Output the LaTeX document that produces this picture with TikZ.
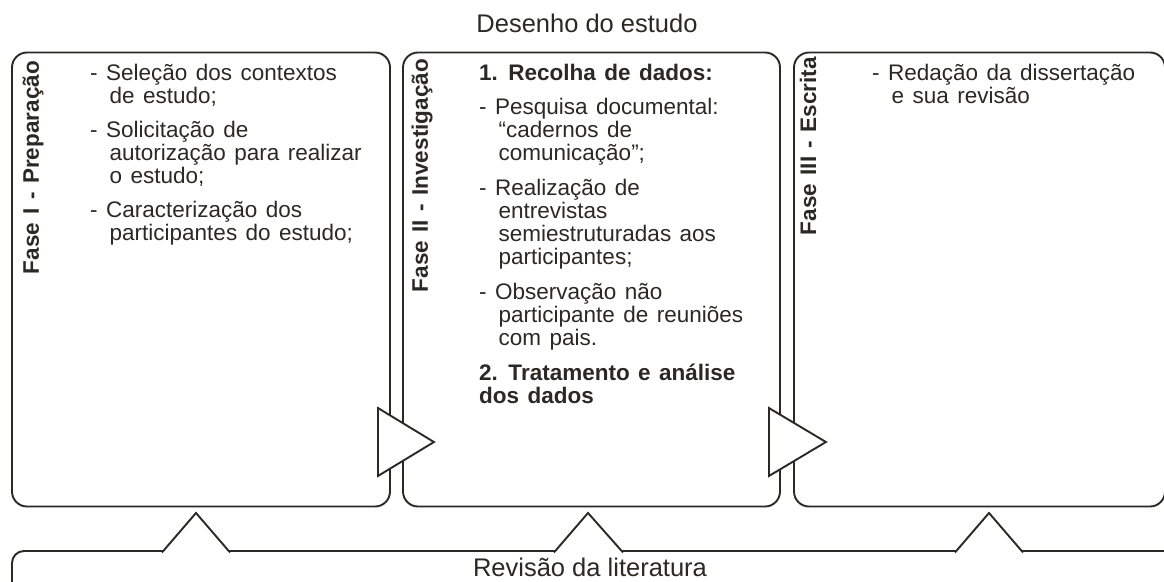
\documentclass[tikz,border=0pt]{standalone}
\usepackage{fontspec}
\setmainfont{Liberation Sans}
\newfontfamily\bodyfont[WordSpace=1.35]{Liberation Sans}
\usetikzlibrary{calc}
\definecolor{ink}{RGB}{43,41,36}
\newcommand{\ind}{\hspace*{19.5pt}}
\tikzset{
  phase/.style={draw=ink, line width=1.9pt, rounded corners=15pt, minimum height=454pt, inner sep=0pt},
  bar/.style={draw=ink, line width=1.9pt, rounded corners=12pt, inner sep=0pt},
  tri/.style={draw=ink, line width=1.9pt, fill=white, line join=miter},
  body/.style={anchor=north west, inner sep=0pt, align=left, text=ink, font=\bodyfont\fontsize{22.5}{23}\selectfont},
  lab/.style={rotate=90, anchor=east, inner sep=0pt, text=ink, font=\bodyfont\bfseries\fontsize{22.5}{23}\selectfont},
  big/.style={inner sep=0pt, text=ink, font=\fontsize{25.5}{28}\selectfont},
}
\begin{document}
\begin{tikzpicture}[x=1pt,y=-1pt]
\useasboundingbox (0,0) rectangle (1164,581);
% title
\node[big] (title) at (587,23) {Desenho do estudo};
% phase boxes
\node[phase, minimum width=378pt] (b1) at (201,279.5) {};
\node[phase, minimum width=377pt] (b2) at (591.5,279.5) {};
\node[phase, minimum width=371pt] (b3) at (979.5,279.5) {};
% literature bar
\node[bar, minimum width=1200pt, minimum height=90pt] (lit) at (612,596) {};
\node[big] (littext) at (590,567) {Revisão da literatura};
% rotated labels
\node[lab] (l1) at (33,61) {Fase I - Preparação};
\node[lab] (l2) at (422,59) {Fase II - Investigação};
\node[lab] (l3) at (808,57) {Fase III - Escrita};
% texts
\node[body] (t1) at (90,64) {- Seleção dos contextos\\
\ind de estudo;\\[11pt]
- Solicitação de\\
\ind autorização para realizar\\
\ind o estudo;\\[11pt]
- Caracterização dos\\
\ind participantes do estudo;};
\node[body] (t2) at (479,64) {\textbf{1. Recolha de dados:}\\[11pt]
- Pesquisa documental:\\
\ind “cadernos de\\
\ind comunicação”;\\[12pt]
- Realização de\\
\ind entrevistas\\
\ind semiestruturadas aos\\
\ind participantes;\\[12pt]
- Observação não\\
\ind participante de reuniões\\
\ind com pais.\\[12pt]
\textbf{2. Tratamento e análise}\\
\textbf{dos dados}};
\node[body] (t3) at (872,64) {- Redação da dissertação\\
\ind e sua revisão};
% right-pointing triangles between phases
\draw[tri] ($(b1.east)+(-13,128.5)$) -- ($(b1.east)+(43,162.5)$) -- ($(b1.east)+(-13,196.5)$) -- cycle;
\draw[tri] ($(b2.east)+(-12,128.5)$) -- ($(b2.east)+(45,162.5)$) -- ($(b2.east)+(-12,196.5)$) -- cycle;
% upward triangles from literature review
\draw[tri] ($(b1.south)+(-39,45)$) -- ($(b1.south)+(-5,5.5)$) -- ($(b1.south)+(29,45)$);
\draw[tri] ($(b2.south)+(-37.5,45)$) -- ($(b2.south)+(-3.5,5.5)$) -- ($(b2.south)+(31.5,45)$);
\draw[tri] ($(b3.south)+(-24.5,45)$) -- ($(b3.south)+(9.5,5.5)$) -- ($(b3.south)+(43.5,45)$);
\end{tikzpicture}
\end{document}
